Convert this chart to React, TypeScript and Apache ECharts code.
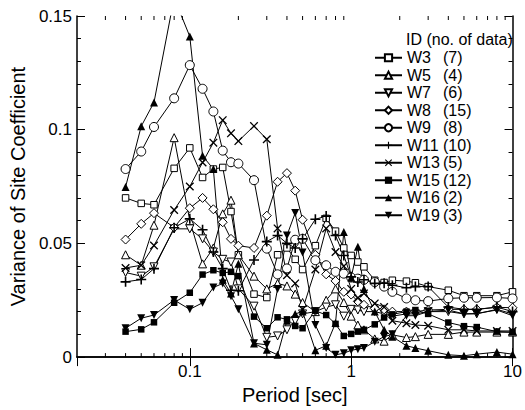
import React, { useEffect, useRef } from 'react';
import * as echarts from 'echarts';

const periods = [0.04, 0.05, 0.06, 0.08, 0.1, 0.12, 0.14, 0.16, 0.18, 0.2, 0.25, 0.3, 0.35, 0.4, 0.45, 0.5, 0.6, 0.7, 0.8, 0.9, 1.0, 1.1, 1.2, 1.4, 1.6, 1.8, 2.2, 2.5, 3, 4, 5, 6, 8, 10];

const w3 = [0.070, 0.0676, 0.067, 0.083, 0.092, 0.079, 0.0827, 0.0834, 0.064, 0.045, 0.0277, 0.0262, 0.045, 0.048, 0.043, 0.0385, 0.049, 0.061, 0.0554, 0.048, 0.0447, 0.0418, 0.0397, 0.0338, 0.0328, 0.0338, 0.0334, 0.0327, 0.031, 0.0294, 0.027, 0.027, 0.027, 0.0287];
const w5 = [0.045, 0.0404, 0.058, 0.0965, 0.060, 0.041, 0.048, 0.063, 0.069, 0.045, 0.0356, 0.030, 0.0324, 0.0313, 0.0277, 0.024, 0.020, 0.025, 0.030, 0.024, 0.018, 0.0141, 0.012, 0.008, 0.007, 0.0098, 0.0086, 0.009, 0.010, 0.010, 0.011, 0.011, 0.011, 0.011];
const w7 = [0.0372, 0.0356, 0.0397, 0.0564, 0.0564, 0.052, 0.0462, 0.043, 0.0418, 0.030, 0.0224, 0.0087, 0.0093, 0.012, 0.016, 0.019, 0.020, 0.022, 0.023, 0.018, 0.021, 0.0207, 0.020, 0.020, 0.019, 0.018, 0.019, 0.019, 0.020, 0.020, 0.019, 0.019, 0.021, 0.019];
const w8 = [0.0517, 0.0586, 0.0633, 0.057, 0.0655, 0.070, 0.065, 0.0593, 0.052, 0.049, 0.048, 0.0622, 0.0771, 0.0809, 0.0732, 0.0604, 0.045, 0.0364, 0.0335, 0.0287, 0.0275, 0.0245, 0.023, 0.0214, 0.021, 0.020, 0.020, 0.020, 0.0207, 0.021, 0.021, 0.021, 0.0219, 0.0217];
const w9 = [0.0827, 0.0904, 0.1012, 0.1138, 0.1284, 0.118, 0.108, 0.0908, 0.0857, 0.0851, 0.0778, 0.0477, 0.0364, 0.039, 0.0516, 0.052, 0.0426, 0.0404, 0.0375, 0.0367, 0.035, 0.0345, 0.034, 0.033, 0.031, 0.0287, 0.0258, 0.025, 0.0246, 0.0258, 0.0261, 0.0261, 0.0262, 0.0258];
const w11 = [0.0331, 0.0341, 0.0389, 0.0569, 0.0608, 0.056, 0.0462, 0.0389, 0.0294, 0.0292, 0.0427, 0.0508, 0.0535, 0.050, 0.048, 0.052, 0.0606, 0.062, 0.0535, 0.0447, 0.0353, 0.033, 0.034, 0.0324, 0.0325, 0.0316, 0.0305, 0.031, 0.031, 0.022, 0.021, 0.021, 0.022, 0.020];
const w13 = [0.0392, 0.0404, 0.0491, 0.0647, 0.075, 0.0856, 0.0943, 0.1042, 0.0984, 0.095, 0.1016, 0.0958, 0.0566, 0.036, 0.0324, 0.021, 0.0385, 0.0566, 0.0462, 0.040, 0.030, 0.026, 0.028, 0.0236, 0.022, 0.016, 0.0149, 0.0141, 0.0138, 0.012, 0.012, 0.0115, 0.0115, 0.0115];
const w15 = [0.0112, 0.0122, 0.0153, 0.0239, 0.0283, 0.0363, 0.0382, 0.037, 0.0375, 0.0356, 0.0178, 0.0127, 0.0175, 0.0166, 0.0137, 0.0127, 0.0204, 0.0185, 0.0146, 0.0093, 0.0102, 0.0112, 0.012, 0.0144, 0.0174, 0.0188, 0.020, 0.0207, 0.019, 0.0152, 0.0136, 0.0132, 0.0112, 0.0109];
const w16 = [0.0748, 0.1015, 0.112, 0.158, 0.141, 0.0885, 0.0827, 0.034, 0.028, 0.041, 0.006, 0.0032, 0.001, 0.016, 0.019, 0.020, 0.003, 0.005, 0.015, 0.055, 0.035, 0.0485, 0.030, 0.020, 0.012, 0.009, 0.005, 0.004, 0.0028, 0.001, 0.0006, 0.0013, 0.0022, 0.0013];
const w19 = [0.0127, 0.0171, 0.0185, 0.0251, 0.021, 0.0239, 0.0306, 0.0324, 0.0268, 0.021, 0.0061, 0.0054, 0.030, 0.0535, 0.0634, 0.046, 0.0141, 0.004, 0.001, 0.0017, 0.003, 0.0035, 0.004, 0.0068, 0.009, 0.010, 0.0182, 0.0182, 0.020, 0.0207, 0.019, 0.0192, 0.0207, 0.0182];

const seriesNames = ['W3 (7)', 'W5 (4)', 'W7 (6)', 'W8 (15)', 'W9 (8)', 'W11 (10)', 'W13 (5)', 'W15 (12)', 'W16 (2)', 'W19 (3)'];
const seriesValues = [w3, w5, w7, w8, w9, w11, w13, w15, w16, w19];

const xMinorTicks = [0.03, 0.04, 0.05, 0.06, 0.07, 0.08, 0.09, 0.2, 0.3, 0.4, 0.5, 0.6, 0.7, 0.8, 0.9, 2, 3, 4, 5, 6, 7, 8, 9];

const FONT = 'Liberation Sans, Arial, Helvetica, sans-serif';
const PLUS = 'path://M0,4.2H10V5.8H0Z M4.2,0H5.8V10H4.2Z';
const CROSS = 'path://M1.1,0L5,3.9L8.9,0L10,1.1L6.1,5L10,8.9L8.9,10L5,6.1L1.1,10L0,8.9L3.9,5L0,1.1Z';

const markerStyles = [
  { symbol: 'rect', size: 6.5, filled: false, rotate: 0 },
  { symbol: 'triangle', size: 8, filled: false, rotate: 0 },
  { symbol: 'triangle', size: 8, filled: false, rotate: 180 },
  { symbol: 'diamond', size: 9, filled: false, rotate: 0 },
  { symbol: 'circle', size: 9, filled: false, rotate: 0 },
  { symbol: PLUS, size: 10, filled: true, rotate: 0 },
  { symbol: CROSS, size: 8.5, filled: true, rotate: 0 },
  { symbol: 'rect', size: 6.5, filled: true, rotate: 0 },
  { symbol: 'triangle', size: 8, filled: true, rotate: 0 },
  { symbol: 'triangle', size: 8, filled: true, rotate: 180 },
];

function buildOption() {
  const lineSeries = seriesNames.map((name, i) => {
    const m = markerStyles[i];
    return {
      name,
      type: 'line',
      data: periods.map((p, j) => [p, seriesValues[i][j]]),
      symbol: m.symbol,
      symbolSize: m.size,
      symbolRotate: m.rotate,
      showAllSymbol: true,
      clip: true,
      lineStyle: { color: '#000', width: 1 },
      itemStyle: m.filled
        ? { color: '#000', borderColor: '#000', borderWidth: 0 }
        : { color: '#fff', borderColor: '#000', borderWidth: 1 },
      emphasis: { disabled: true },
      z: 3,
    };
  });

  const minorTickSeries = {
    name: 'minorTicks',
    type: 'custom',
    coordinateSystem: 'cartesian2d',
    xAxisIndex: 0,
    yAxisIndex: 0,
    silent: true,
    clip: false,
    z: 5,
    data: xMinorTicks.map((v) => [v, 0]),
    encode: { x: 0, y: 1 },
    renderItem: (params: any, api: any) => {
      const x = api.coord([api.value(0), 0])[0];
      const cs = params.coordSys;
      const bottom = cs.y + cs.height;
      return {
        type: 'group',
        children: [
          { type: 'line', shape: { x1: x, y1: bottom, x2: x, y2: bottom - 4 }, style: { stroke: '#000', lineWidth: 1 } },
          { type: 'line', shape: { x1: x, y1: cs.y, x2: x, y2: cs.y + 4 }, style: { stroke: '#000', lineWidth: 1 } },
        ],
      };
    },
  };

  const axisLine = { show: true, lineStyle: { color: '#000', width: 1.5 } };

  return {
    animation: false,
    backgroundColor: '#fff',
    grid: { left: 73, right: 8, top: 16, bottom: 51, containLabel: false },
    xAxis: [
      {
        type: 'log',
        logBase: 10,
        min: 0.02,
        max: 10,
        position: 'bottom',
        axisLine,
        axisTick: { show: true, inside: true, length: 9, lineStyle: { color: '#000', width: 1 } },
        axisLabel: { show: true, showMinLabel: false, margin: 6, fontSize: 17, fontFamily: FONT, color: '#000' },
        splitLine: { show: false },
        name: 'Period [sec]',
        nameLocation: 'middle',
        nameGap: 24,
        nameTextStyle: { fontSize: 20, fontFamily: FONT, color: '#000' },
      },
      {
        type: 'log',
        logBase: 10,
        min: 0.02,
        max: 10,
        position: 'top',
        axisLine,
        axisTick: { show: true, inside: true, length: 9, lineStyle: { color: '#000', width: 1 } },
        axisLabel: { show: false },
        splitLine: { show: false },
      },
    ],
    yAxis: [
      {
        type: 'value',
        min: 0,
        max: 0.15,
        interval: 0.05,
        position: 'left',
        axisLine,
        axisTick: { show: true, inside: true, length: 8, lineStyle: { color: '#000', width: 1 } },
        minorTick: { show: true, splitNumber: 5, length: 4, lineStyle: { color: '#000', width: 1 } },
        axisLabel: { margin: 5, fontSize: 17, fontFamily: FONT, color: '#000' },
        splitLine: { show: false },
        minorSplitLine: { show: false },
        name: 'Variance of Site Coefficient',
        nameLocation: 'middle',
        nameGap: 45,
        nameTextStyle: { fontSize: 20, fontFamily: FONT, color: '#000' },
      },
      {
        type: 'value',
        min: 0,
        max: 0.15,
        interval: 0.05,
        position: 'right',
        axisLine,
        axisTick: { show: true, inside: true, length: 8, lineStyle: { color: '#000', width: 1 } },
        minorTick: { show: true, splitNumber: 5, length: 4, lineStyle: { color: '#000', width: 1 } },
        axisLabel: { show: false },
        splitLine: { show: false },
        minorSplitLine: { show: false },
      },
    ],
    legend: {
      data: seriesNames,
      orient: 'vertical',
      left: 374,
      top: 49,
      padding: 0,
      itemGap: 0,
      itemWidth: 27,
      itemHeight: 9,
      selectedMode: false,
      formatter: (name: string) => {
        const parts = name.split(' ');
        return '{a|' + parts[0] + '}{b|' + parts[1] + '}';
      },
      textStyle: {
        fontSize: 16,
        fontFamily: FONT,
        color: '#000',
        lineHeight: 17.5,
        rich: {
          a: { width: 36, fontSize: 16, fontFamily: FONT, color: '#000', lineHeight: 17.5 },
          b: { fontSize: 16, fontFamily: FONT, color: '#000', lineHeight: 17.5 },
        },
      },
    },
    graphic: [
      {
        type: 'text',
        left: 406,
        top: 31,
        style: { text: 'ID (no. of data)', fontSize: 16, fontFamily: FONT, fill: '#000' },
        z: 10,
      },
    ],
    series: [...lineSeries, minorTickSeries],
  };
}

export default function App() {
  const ref = useRef<HTMLDivElement>(null);
  useEffect(() => {
    if (!ref.current) return;
    const chart = echarts.init(ref.current, null, { renderer: 'svg' });
    chart.setOption(buildOption() as any);
    return () => {
      chart.dispose();
    };
  }, []);
  return <div ref={ref} style={{ position: 'absolute', left: 0, top: 0, width: 525, height: 410, background: '#fff' }} />;
}
